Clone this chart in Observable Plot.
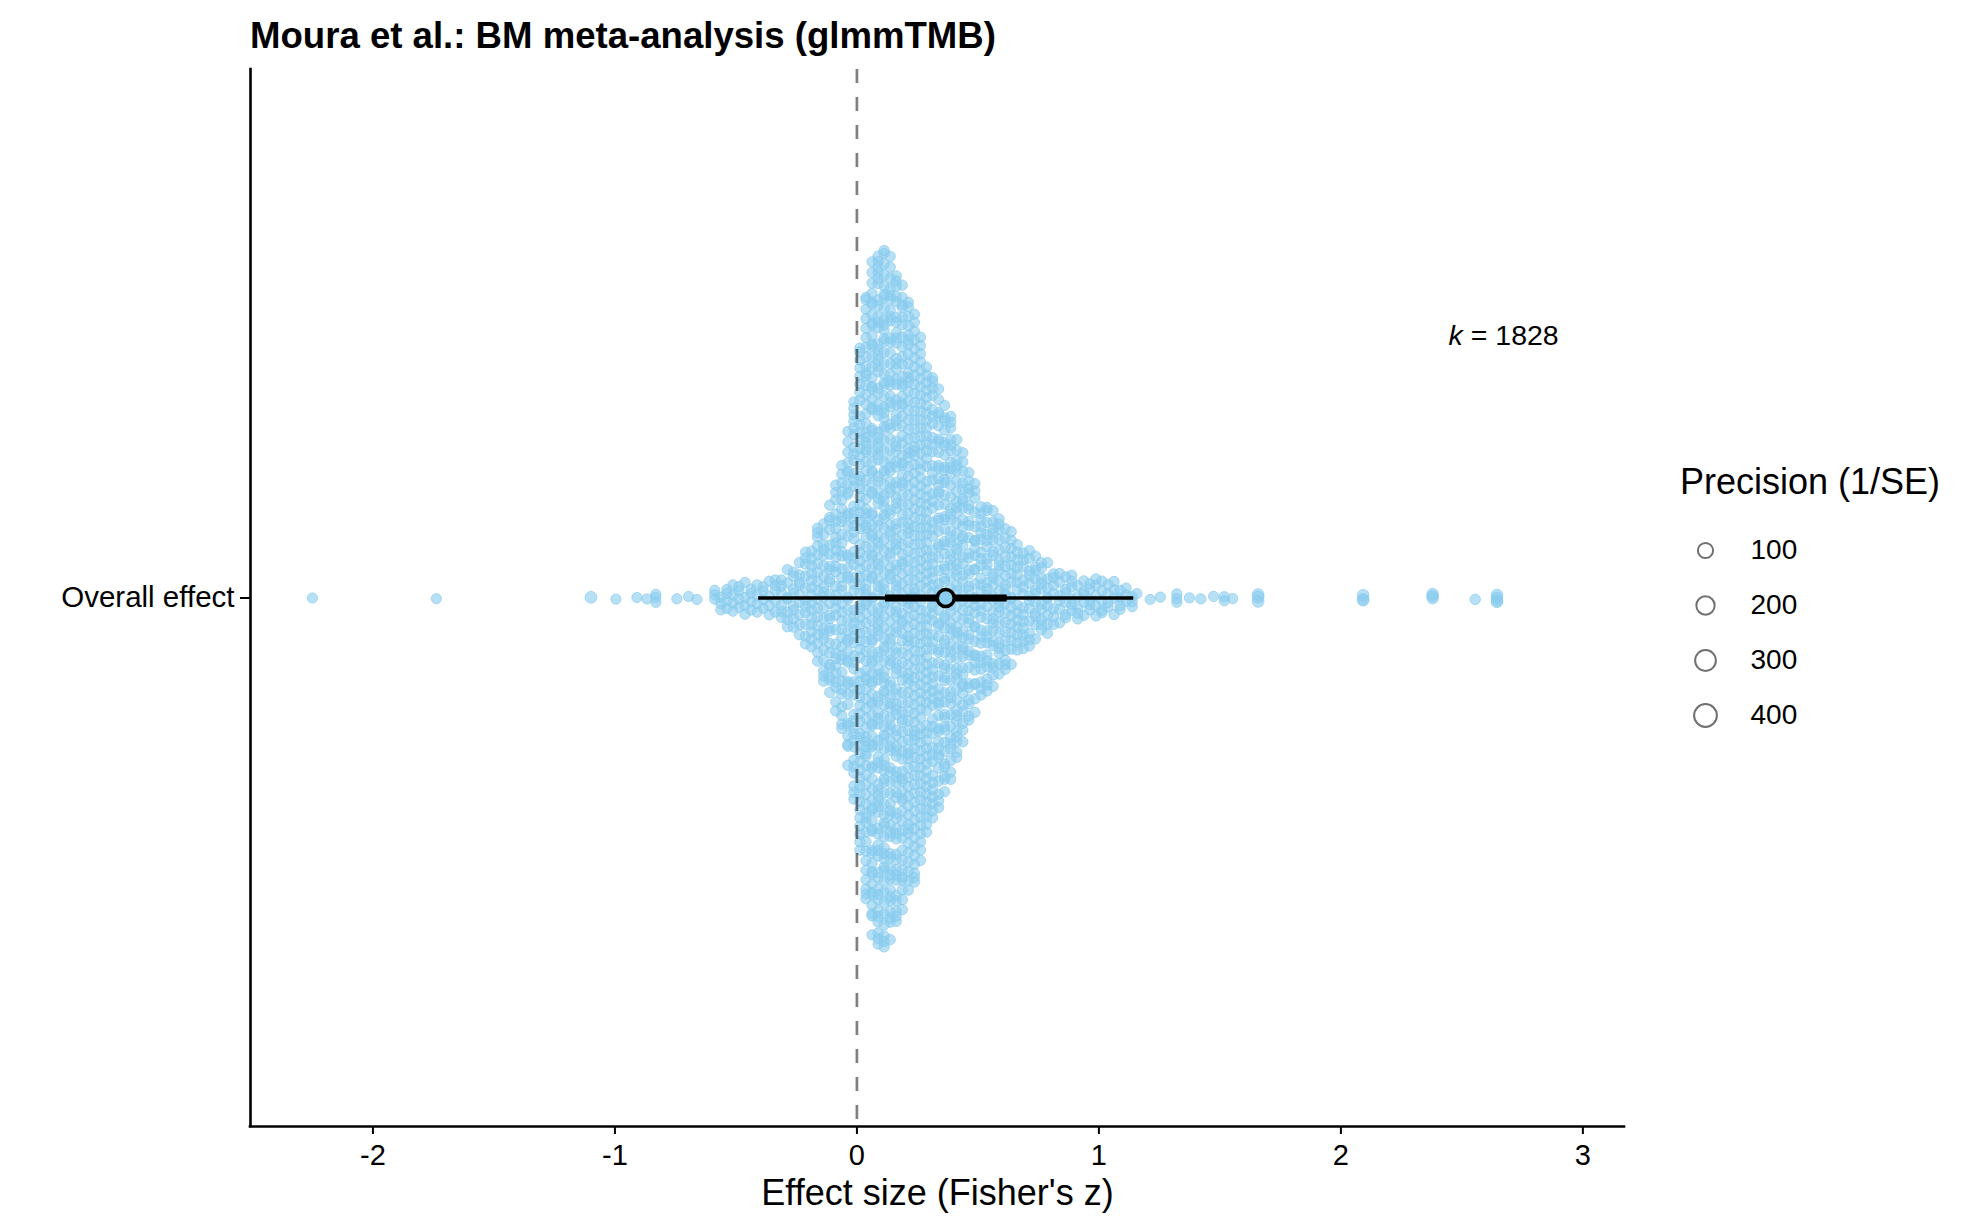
<!DOCTYPE html>
<html><head><meta charset="utf-8">
<script src="https://cdn.jsdelivr.net/npm/d3@7"></script>
<script src="https://cdn.jsdelivr.net/npm/@observablehq/plot@0.6"></script>
<style>
body{margin:0;background:#fff;font-family:"Liberation Sans",Arial,Helvetica,sans-serif;color:#000}
#page{position:relative;width:1980px;height:1232px;overflow:hidden;background:#fff}
#title{position:absolute;left:250px;top:18px;font-weight:bold;font-size:36.6px;line-height:1;white-space:nowrap}
#chart{position:absolute;left:0;top:60px}
#legtitle{position:absolute;left:1680px;top:464px;font-size:36px;line-height:1;white-space:nowrap}
#legend{position:absolute;left:1660px;top:500px}
</style></head>
<body>
<div id="page">
  <div id="title">Moura et al.: BM meta-analysis (glmmTMB)</div>
  <div id="chart"></div>
  <div id="legtitle">Precision (1/SE)</div>
  <div id="legend"></div>
</div>
<script>
// ---- data ----
const category = "Overall effect";
const xTicks = [-2, -1, 0, 1, 2, 3];
const xDomain = [-2.506, 3.172];
const yDomain = [0.4, 1.6];
const xLabel = "Effect size (Fisher's z)";
const kLabel = "k = 1828";
const kPos = [2.445, 1.298];

// histogram of effect sizes (bin centres, width 0.025) estimated from the swarm outline
const binCenters = [-0.5875,-0.5625,-0.5375,-0.5125,-0.4875,-0.4625,-0.4375,-0.4125,-0.3875,-0.3625,
  -0.3375,-0.3125,-0.2875,-0.2625,-0.2375,-0.2125,-0.1875,-0.1625,-0.1375,-0.1125,
  -0.0875,-0.0625,-0.0375,-0.0125,
  0.0125,0.0375,0.0625,0.0875,0.1125,0.1375,0.1625,0.1875,0.2125,0.2375,
  0.2625,0.2875,0.3125,0.3375,0.3625,0.3875,0.4125,0.4375,0.4625,0.4875,
  0.5125,0.5375,0.5625,0.5875,0.6125,0.6375,0.6625,0.6875,0.7125,0.7375,
  0.7625,0.7875,0.8125,0.8375,0.8625,0.8875,0.9125,0.9375,0.9625,0.9875,
  1.0125,1.0375,1.0625,1.0875,1.1125,1.1375];
const binCounts = [3,3,4,4,4,4,4,4,4,4,
  5,6,7,8,9,11,14,17,20,23,
  27,32,38,48,
  61,77,85,87,86,83,80,75,73,69,
  64,58,53,50,48,45,40,36,30,27,
  24,23,22,20,18,16,14,13,12,11,
  10,9,7,6,6,6,5,5,5,5,
  5,4,4,4,3,3];
const binPrecision = 13;

// individually visible effect sizes in the tails
const outlierValues = [-2.25,-1.738,-1.099,-0.996,-0.909,-0.868,-0.831,-0.831,-0.831,-0.744,-0.696,-0.661,
  1.157,1.212,1.254,1.322,1.322,1.322,1.374,1.421,1.474,1.518,1.518,1.553,
  1.658,1.658,1.658,2.092,2.092,2.092,2.379,2.379,2.379,2.555,2.645,2.645,2.645,2.645];
const outlierPrecision = [12,12,30,12,12,12,12,12,12,12,12,12,
  12,12,12,12,12,12,12,12,12,12,12,12,
  30,30,30,26,26,26,26,26,26,14,26,26,26,26];

// model estimate, confidence and prediction intervals
const estimate = 0.367;
const ciBounds = [0.116, 0.619];
const piBounds = [-0.408, 1.142];

const legendValues = [100, 200, 300, 400];
const ptColor = "#88CCEE";

// ---- expand into one record per effect size ----
let pts = [];
binCenters.forEach((c, i) => { for (let j = 0; j < binCounts[i]; j++) pts.push({value: c, precision: binPrecision}); });
outlierValues.forEach((v, i) => pts.push({value: v, precision: outlierPrecision[i]}));
pts.sort((a, b) => a.value - b.value);

// quasirandom (van der Corput) beeswarm offsets scaled by kernel density, width 0.4
const groups = d3.rollups(pts, v => v.length, d => d.value);
const bw = 0.03;
const dens = v => d3.sum(groups, ([c, n]) => n * Math.exp(-0.5 * ((v - c) / bw) ** 2));
const densMap = new Map(groups.map(([c]) => [c, dens(c)]));
const maxD = d3.max(densMap.values());
function vdc(n) { let v = 0, d = 1; while (n > 0) { d *= 2; v += (n % 2) / d; n = Math.floor(n / 2); } return v; }
pts.forEach((p, i) => { p.y = 1 + (vdc(i + 1) - 0.5) * 2 * 0.4 * densMap.get(p.value) / maxD; });

const rScale = {type: "pow", exponent: 0.5, domain: [0, 400], range: [3.8, 11.4]};
const font = '"Liberation Sans", Arial, Helvetica, sans-serif';

const chart = Plot.plot({
  width: 1980, height: 1172,
  marginLeft: 250, marginRight: 356, marginTop: 9, marginBottom: 106,
  style: {fontFamily: font, fontSize: "28px", color: "black", background: "transparent", overflow: "visible"},
  x: {domain: xDomain},
  y: {domain: yDomain},
  r: rScale,
  marks: [
    Plot.dot(pts, {x: "value", y: "y", r: "precision", fill: ptColor, fillOpacity: 0.6, stroke: ptColor, strokeOpacity: 0.7, strokeWidth: 1}),
    Plot.ruleX([0], {stroke: "black", strokeOpacity: 0.5, strokeWidth: 2.7, strokeDasharray: "14,14"}),
    Plot.link([piBounds], {x1: d => d[0], x2: d => d[1], y1: () => 1, y2: () => 1, stroke: "black", strokeWidth: 3.3}),
    Plot.link([ciBounds], {x1: d => d[0], x2: d => d[1], y1: () => 1, y2: () => 1, stroke: "black", strokeWidth: 7}),
    Plot.dot([estimate], {x: d => d, y: () => 1, r: 8.5, fill: ptColor, stroke: "black", strokeWidth: 3.5}),
    Plot.axisX({ticks: xTicks, tickFormat: d => String(d), tickSize: 8, tickPadding: 10, strokeWidth: 2, label: null, fontSize: 29}),
    Plot.axisY({ticks: [1], tickFormat: () => category, tickSize: 10, tickPadding: 6, strokeWidth: 2, label: null, fontSize: 29.5}),
    Plot.ruleX([xDomain[0]], {y1: yDomain[0], y2: yDomain[1], stroke: "black", strokeWidth: 2.6, strokeLinecap: "square"}),
    Plot.ruleY([yDomain[0]], {x1: xDomain[0], x2: xDomain[1], stroke: "black", strokeWidth: 2.6, strokeLinecap: "square"}),
    Plot.text([xLabel], {frameAnchor: "bottom", text: d => d, dy: 78, lineAnchor: "bottom", fontSize: 36}),
    Plot.text([kLabel], {x: () => kPos[0], y: () => kPos[1], text: d => d, textAnchor: "start", fontSize: 28.5})
  ]
});
document.getElementById("chart").appendChild(chart);
// italic k
chart.querySelectorAll("text").forEach(t => {
  if (t.textContent === kLabel) {
    t.textContent = "";
    const a = document.createElementNS("http://www.w3.org/2000/svg", "tspan");
    a.setAttribute("font-style", "italic"); a.textContent = "k";
    const b = document.createElementNS("http://www.w3.org/2000/svg", "tspan");
    b.textContent = kLabel.slice(1);
    t.appendChild(a); t.appendChild(b);
  }
});

const legend = Plot.plot({
  width: 280, height: 260, marginLeft: 45, marginRight: 0, marginTop: 50, marginBottom: 45,
  style: {fontFamily: font, fontSize: "28px", color: "black", background: "transparent", overflow: "visible"},
  x: {domain: [0, 1], axis: null},
  y: {type: "point", domain: legendValues, axis: null, padding: 0},
  r: rScale,
  marks: [
    Plot.dot(legendValues, {x: () => 0, y: d => d, r: d => d, stroke: "#707070", strokeWidth: 2, fill: "none"}),
    Plot.text(legendValues, {x: () => 0, y: d => d, text: d => String(d), dx: 45, textAnchor: "start", fontSize: 28})
  ]
});
document.getElementById("legend").appendChild(legend);
</script>
</body></html>
